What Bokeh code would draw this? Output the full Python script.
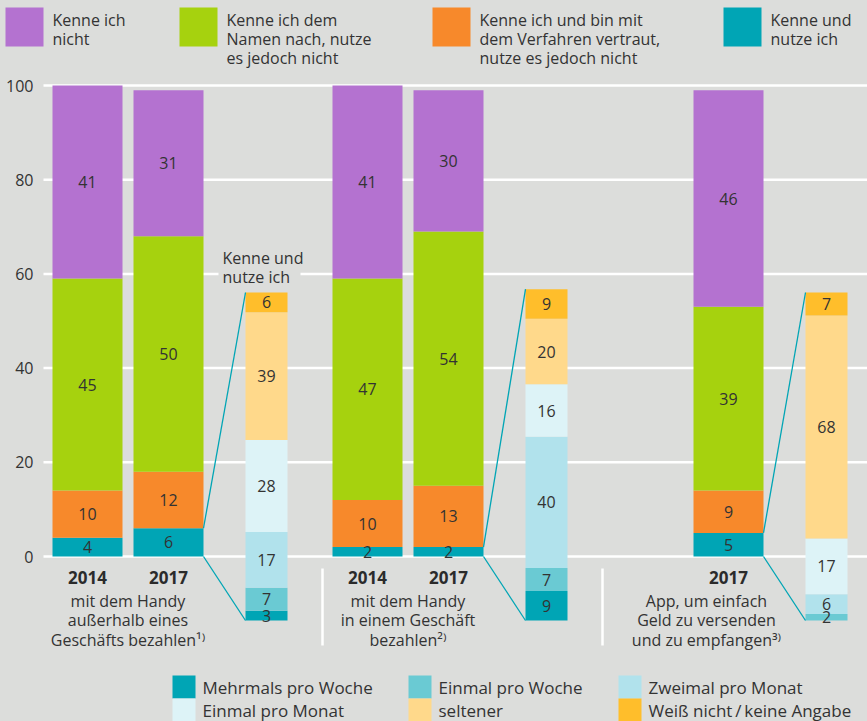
import numpy as np
from bokeh.plotting import figure
from bokeh.models import Range1d
from bokeh.core.properties import value
from bokeh.embed import file_html
from bokeh.resources import INLINE

# ---------------- data ----------------
# main awareness categories, stacked bottom -> top
main_cats = ["Kenne und\nnutze ich",
             "Kenne ich und bin mit\ndem Verfahren vertraut,\nnutze es jedoch nicht",
             "Kenne ich dem\nNamen nach, nutze\nes jedoch nicht",
             "Kenne ich\nnicht"]
main_colors = ["#00A5B5", "#F7892B", "#A6D20E", "#B472D0"]

group_labels = ["mit dem Handy\naußerhalb eines\nGeschäfts bezahlen¹⁾",
                "mit dem Handy\nin einem Geschäft\nbezahlen²⁾",
                "App, um einfach\nGeld zu versenden\nund zu empfangen³⁾"]
years = ["2014", "2017"]

# (group index, year index, values bottom->top)
g1_2014 = [4, 10, 45, 41]
g1_2017 = [6, 12, 50, 31]
g2_2014 = [2, 10, 47, 41]
g2_2017 = [2, 13, 54, 30]
g3_2017 = [5, 9, 39, 46]
bars = [(0, 0, g1_2014), (0, 1, g1_2017),
        (1, 0, g2_2014), (1, 1, g2_2017),
        (2, 1, g3_2017)]

# usage frequency of "Kenne und nutze ich" (2017), stacked bottom -> top
freq_cats = ["Mehrmals pro Woche", "Einmal pro Woche", "Zweimal pro Monat",
             "Einmal pro Monat", "seltener", "Weiß nicht\u2009/\u2009keine Angabe"]
freq_colors = ["#00A5B5", "#6ACAD3", "#B1E2EC", "#DDF3F7", "#FFD98B", "#FFBE2B"]
bd_g1 = [3, 7, 17, 28, 39, 6]
bd_g2 = [9, 7, 40, 16, 20, 9]
bd_g3 = [0, 2, 6, 17, 68, 7]
breakdowns = [bd_g1, bd_g2, bd_g3]

y_ticks = [0, 20, 40, 60, 80, 100]

# ---------------- layout (page pixels) ----------------
BG = "#DCDDDB"
TXT = "#333333"
FONT = value("Open Sans")
W, H = 867, 721
PX = 4.71          # px per percentage point on main bars
ZERO_PY = 556      # page y of 0
BD_BOTTOM_PY = 620
BD_PX = 3.28       # px per percent in breakdown bars
X0, GSTEP, SSTEP, BD_OFF = 87, 280, 81, 179
BAR_W, BD_W = 70, 42


def py2y(py):
    return (ZERO_PY - py) / PX


p = figure(width=W, height=H, output_backend="svg", toolbar_location=None,
           x_range=Range1d(0, W), y_range=Range1d(py2y(H), py2y(0)),
           x_axis_type=None, y_axis_type=None, min_border=0)
p.background_fill_color = BG
p.border_fill_color = BG
p.outline_line_color = None
p.grid.visible = False

# gridlines + tick labels
p.segment(x0=[43] * len(y_ticks), x1=[W + 5] * len(y_ticks), y0=y_ticks, y1=y_ticks,
          line_color="white", line_width=2.5)
p.text(x=[33] * len(y_ticks), y=y_ticks, text=[str(t) for t in y_ticks],
       text_align="right", text_baseline="middle", text_font=FONT,
       text_font_size="16px", text_color=TXT)

# group separators
for gi in (1, 2):
    sx = X0 + GSTEP * (gi - 1) + 235
    p.segment(x0=[sx], x1=[sx], y0=[py2y(568)], y1=[py2y(645)],
              line_color="white", line_width=2.5)

# main stacked bars
for gi, yi, vals in bars:
    cx = X0 + GSTEP * gi + SSTEP * yi
    v = np.array(vals, dtype=float)
    tops = np.cumsum(v)
    bots = tops - v
    p.quad(left=[cx - BAR_W / 2] * len(v), right=[cx + BAR_W / 2] * len(v),
           bottom=bots, top=tops, fill_color=main_colors, line_color=None)
    p.text(x=[cx] * len(v), y=(bots + tops) / 2, text=[str(int(a)) for a in v],
           text_align="center", text_baseline="middle", text_font=FONT,
           text_font_size="16px", text_color=TXT)
    p.text(x=[cx], y=[py2y(577)], text=[years[yi]], text_align="center",
           text_baseline="middle", text_font=FONT, text_font_size="17px",
           text_font_style="bold", text_color="#2b2b2b")

# breakdown bars + connectors
bd_bottom = py2y(BD_BOTTOM_PY)
k = BD_PX / PX
for gi, vals in enumerate(breakdowns):
    cx = X0 + GSTEP * gi + BD_OFF
    v = np.array(vals, dtype=float)
    tops = bd_bottom + k * np.cumsum(v)
    bots = tops - k * v
    m = v > 0
    cols = [c for c, mm in zip(freq_colors, m) if mm]
    p.quad(left=[cx - BD_W / 2] * m.sum(), right=[cx + BD_W / 2] * m.sum(),
           bottom=bots[m], top=tops[m], fill_color=cols, line_color=None)
    p.text(x=[cx] * m.sum(), y=((bots + tops) / 2)[m],
           text=[str(int(a)) for a in v[m]], text_align="center",
           text_baseline="middle", text_font=FONT, text_font_size="16px",
           text_color=TXT)
    # the 2017 bar of this group
    src = [b for b in bars if b[0] == gi and b[1] == 1][0]
    bx = X0 + GSTEP * gi + SSTEP * 1 + BAR_W / 2
    p.segment(x0=[bx, bx], y0=[src[2][0], 0],
              x1=[cx - BD_W / 2, cx - BD_W / 2], y1=[tops[-1], bd_bottom],
              line_color="#00A5B5", line_width=1.3)

# "Kenne und nutze ich" annotation above first breakdown (masks the gridline)
p.quad(left=[218], right=[300], top=[py2y(269)], bottom=[py2y(278)],
       fill_color=BG, line_color=None)
ann = main_cats[0].split("\n")
for li, line in enumerate(ann):
    p.text(x=[222], y=[py2y(257 + 19 * li)], text=[line], text_align="left",
           text_baseline="middle", text_font=FONT, text_font_size="16px",
           text_color=TXT)

# group labels
label_cx = [X0 + SSTEP / 2, X0 + GSTEP + SSTEP / 2, 706]
for gi, lab in enumerate(group_labels):
    for li, line in enumerate(lab.split("\n")):
        p.text(x=[label_cx[gi]], y=[py2y(600 + 19.5 * li)], text=[line],
               text_align="center", text_baseline="middle", text_font=FONT,
               text_font_size="16px", text_color=TXT)

# top legend (left -> right: Kenne ich nicht ... Kenne und nutze ich)
top_sw_x = [5, 179, 432, 723]
for i, ci in enumerate([3, 2, 1, 0]):
    sx = top_sw_x[i]
    p.quad(left=[sx], right=[sx + 38], top=[py2y(7)], bottom=[py2y(46)],
           fill_color=main_colors[ci], line_color=None)
    for li, line in enumerate(main_cats[ci].split("\n")):
        p.text(x=[sx + 47], y=[py2y(19 + 19 * li)], text=[line], text_align="left",
               text_baseline="middle", text_font=FONT, text_font_size="16px",
               text_color=TXT)

# bottom legend (3 columns x 2 rows)
bot_sw_x = [172, 408, 618]
for i, name in enumerate(freq_cats):
    row, col = divmod(i, 3)
    sx = bot_sw_x[col]
    top_py = 675 + 23 * row
    p.quad(left=[sx], right=[sx + 23], top=[py2y(top_py)], bottom=[py2y(top_py + 23)],
           fill_color=freq_colors[i], line_color=None)
    p.text(x=[sx + 30], y=[py2y(top_py + 12)], text=[name], text_align="left",
           text_baseline="middle", text_font=FONT, text_font_size="17px",
           text_color=TXT)

html = file_html(p, INLINE, title="Chart")
html = html.replace("<head>", "<head><style>body{background:%s;}</style>" % BG, 1)
open("out.html", "w").write(html)
